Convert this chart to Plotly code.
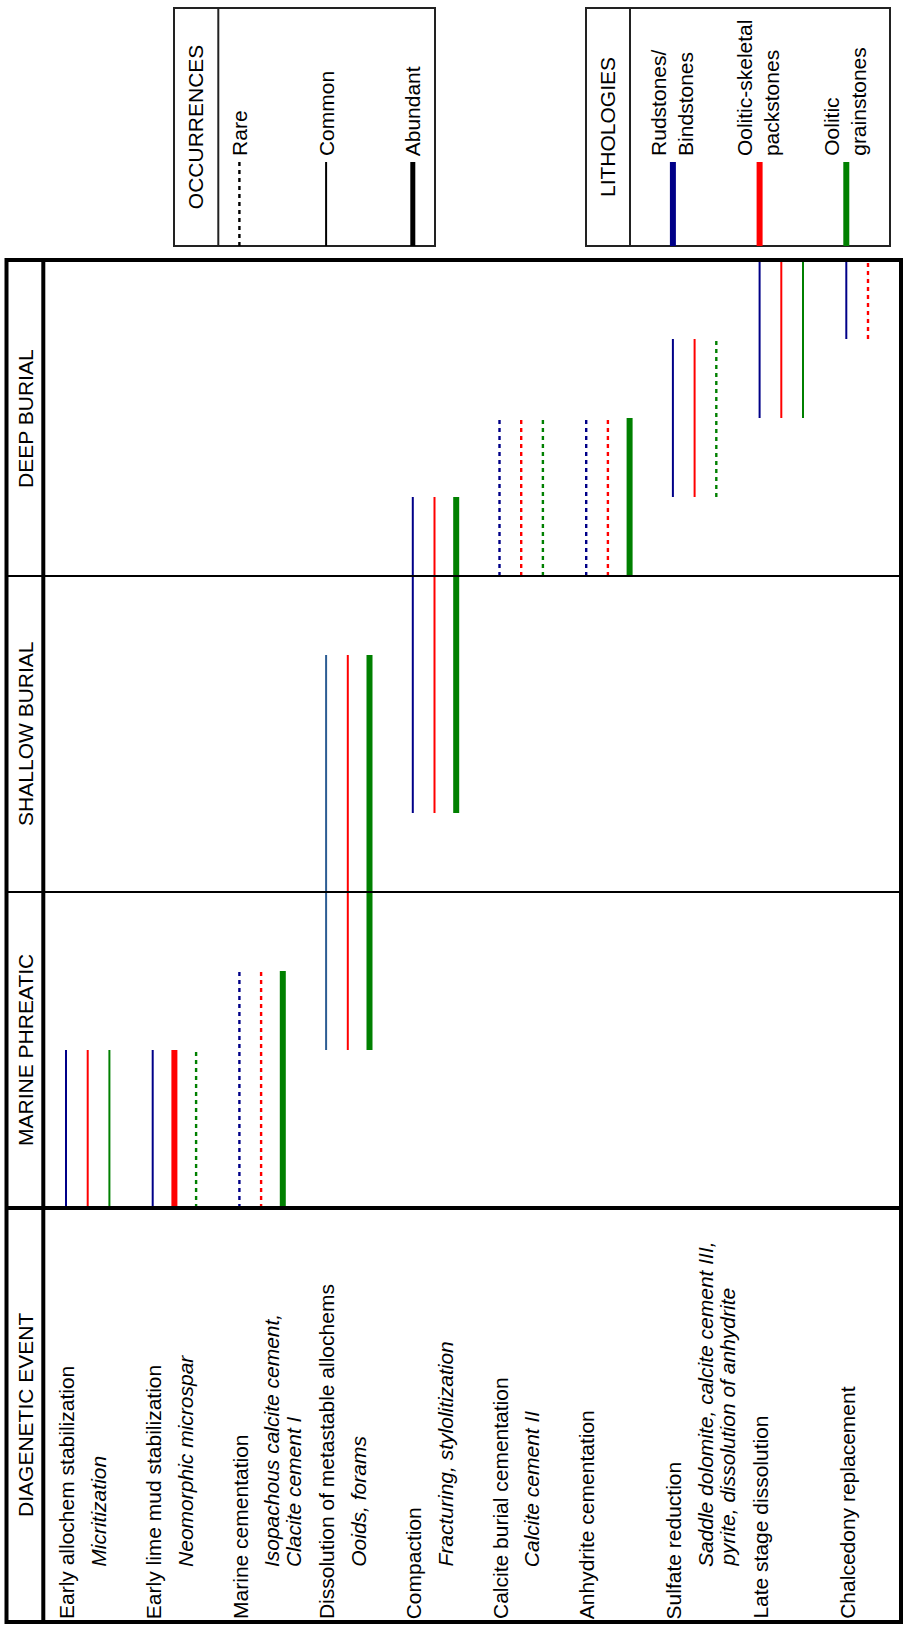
import plotly.graph_objects as go

# ---------------------------------------------------------------- data
events = [
    "Early allochem stabilization",
    "Early lime mud stabilization",
    "Marine cementation",
    "Dissolution of metastable allochems",
    "Compaction",
    "Calcite burial cementation",
    "Anhydrite cementation",
    "Sulfate reduction",
    "Late stage dissolution",
    "Chalcedony replacement",
]
details = [
    ["Micritization"],
    ["Neomorphic microspar"],
    ["Isopachous calcite cement,", "Clacite cement I"],
    ["Ooids, forams"],
    ["Fracturing, stylolitization"],
    ["Calcite cement II"],
    [],
    ["Saddle dolomite, calcite cement III,", "pyrite, dissolution of anhydrite"],
    [],
    [],
]
# relative timing (0 = earliest marine phreatic, 12 = latest deep burial)
start = [0, 0, 0, 2, 5, 8, 8, 9, 10, 11]
end = [2, 2, 3, 7, 9, 10, 10, 11, 12, 12]

# occurrence of each event in each lithology (None = not observed)
occ_rudstone = ["Common", "Common", "Rare", "Common", "Common", "Rare", "Rare", "Common", "Common", "Common"]
occ_packstone = ["Common", "Abundant", "Rare", "Common", "Common", "Rare", "Rare", "Common", "Common", "Rare"]
occ_grainstone = ["Common", "Rare", "Abundant", "Abundant", "Abundant", "Rare", "Abundant", "Rare", "Common", None]

lithologies = ["Rudstones/<br>Bindstones", "Oolitic-skeletal<br>packstones", "Oolitic<br>grainstones"]
occurrence_levels = ["Rare", "Common", "Abundant"]

stages = ["MARINE PHREATIC", "SHALLOW BURIAL", "DEEP BURIAL"]
stage_bounds = [0, 4, 8, 12]

# ---------------------------------------------------------------- styling
W, H = 903, 1625
FONT = "Liberation Sans, Arial, Helvetica, sans-serif"
LABEL_SIZE = 21
lith_colors = ["#000088", "#FF0000", "#008000"]
color_override = {(3, 0): "#2C5C93"}
occ_style = {
    "Rare": dict(width=2.4, dash="4px,4px"),
    "Common": dict(width=2, dash="solid"),
    "Abundant": dict(width=6, dash="solid"),
}
legend_width = {"Rare": 2.4, "Common": 2, "Abundant": 5}

LANE0, LANE_STEP, LITH_STEP = 66.0, 86.7, 21.7
TABLE_L, TABLE_R, TABLE_T, TABLE_B = 6.5, 901.0, 260.0, 1622.0
HEAD_X = 43.3            # divider between header strip and body
TIME0_PX, TIME12_PX = 1208.0, 260.0
DETAIL_DX, DETAIL_LINE = 32.2, 22.0


def lane_x(i):
    return LANE0 + i * LANE_STEP


def py(p):
    """pixel row -> paper fraction"""
    return 1 - p / H


fig = go.Figure()

# ---------------------------------------------------------------- event bars
occ_table = [occ_rudstone, occ_packstone, occ_grainstone]
for i in range(len(events)):
    for j, occ in enumerate(occ_table):
        level = occ[i]
        if level is None:
            continue
        x = lane_x(i) + j * LITH_STEP
        st = occ_style[level]
        fig.add_trace(go.Scatter(
            x=[x, x], y=[start[i], end[i]], mode="lines",
            line=dict(color=color_override.get((i, j), lith_colors[j]),
                      width=st["width"], dash=st["dash"]),
            hoverinfo="skip", showlegend=False,
        ))

shapes = []
ann = []

# ---------------------------------------------------------------- table frame
shapes.append(dict(type="rect", xref="x", yref="paper", x0=TABLE_L, x1=TABLE_R,
                   y0=py(TABLE_T), y1=py(TABLE_B), line=dict(color="black", width=4)))
shapes.append(dict(type="line", xref="x", yref="paper", x0=HEAD_X, x1=HEAD_X,
                   y0=py(TABLE_T), y1=py(TABLE_B), line=dict(color="black", width=4)))
shapes.append(dict(type="line", xref="x", yref="paper", x0=TABLE_L, x1=TABLE_R,
                   y0=py(TIME0_PX), y1=py(TIME0_PX), line=dict(color="black", width=4)))
for b in stage_bounds[1:-1]:
    shapes.append(dict(type="line", xref="x", yref="y", x0=TABLE_L, x1=TABLE_R,
                       y0=b, y1=b, line=dict(color="black", width=2)))

# stage headers
for k, name in enumerate(stages):
    ann.append(dict(x=(TABLE_L + HEAD_X) / 2, y=(stage_bounds[k] + stage_bounds[k + 1]) / 2,
                    xref="x", yref="y", text=name, textangle=-90, showarrow=False,
                    font=dict(family=FONT, size=21, color="black"),
                    xanchor="center", yanchor="middle"))
ann.append(dict(x=(TABLE_L + HEAD_X) / 2, y=py((TIME0_PX + TABLE_B) / 2), xref="x", yref="paper",
                text="DIAGENETIC EVENT", textangle=-90, showarrow=False,
                font=dict(family=FONT, size=21, color="black"),
                xanchor="center", yanchor="middle"))

# event labels, with italic detail lines beside them
for i, name in enumerate(events):
    ann.append(dict(x=lane_x(i) + 0.5, y=py(1619), xref="x", yref="paper",
                    text=name, textangle=-90, showarrow=False,
                    font=dict(family=FONT, size=LABEL_SIZE, color="black"),
                    xanchor="center", yanchor="bottom", borderpad=0, borderwidth=0))
    for k, line in enumerate(details[i]):
        ann.append(dict(x=lane_x(i) + DETAIL_DX + k * DETAIL_LINE, y=py(1567), xref="x", yref="paper",
                        text="<i>" + line + "</i>", textangle=-90, showarrow=False,
                        font=dict(family=FONT, size=LABEL_SIZE, color="black"),
                        xanchor="center", yanchor="bottom", borderpad=0, borderwidth=0))

# ---------------------------------------------------------------- key boxes
BOX_T, BOX_B, SAMPLE_T = 8.0, 246.0, 162.0
keys = [
    dict(left=174.0, div=218.3, right=435.0, title="OCCURRENCES", lanes=[2, 3, 4]),
    dict(left=586.0, div=630.0, right=890.0, title="LITHOLOGIES", lanes=[7, 8, 9]),
]
for kb in keys:
    shapes.append(dict(type="rect", xref="x", yref="paper", x0=kb["left"], x1=kb["right"],
                       y0=py(BOX_T), y1=py(BOX_B), line=dict(color="#222222", width=2)))
    shapes.append(dict(type="line", xref="x", yref="paper", x0=kb["div"], x1=kb["div"],
                       y0=py(BOX_T), y1=py(BOX_B), line=dict(color="#222222", width=2)))
    ann.append(dict(x=(kb["left"] + kb["div"]) / 2, y=py((BOX_T + BOX_B) / 2), xref="x", yref="paper",
                    text=kb["title"], textangle=-90, showarrow=False,
                    font=dict(family=FONT, size=21, color="black"),
                    xanchor="center", yanchor="middle"))

# occurrence samples
for lane, level in zip(keys[0]["lanes"], occurrence_levels):
    x = lane_x(lane)
    shapes.append(dict(type="line", xref="x", yref="paper", x0=x, x1=x,
                       y0=py(SAMPLE_T), y1=py(BOX_B),
                       line=dict(color="black", width=legend_width[level],
                                 dash=occ_style[level]["dash"])))
    ann.append(dict(x=x + 0.5, y=py(SAMPLE_T - 6), xref="x", yref="paper",
                    text=level, textangle=-90, showarrow=False,
                    font=dict(family=FONT, size=LABEL_SIZE, color="black"),
                    xanchor="center", yanchor="bottom", borderpad=0, borderwidth=0))

# lithology samples
for lane, name, col in zip(keys[1]["lanes"], lithologies, lith_colors):
    x = lane_x(lane)
    shapes.append(dict(type="line", xref="x", yref="paper", x0=x, x1=x,
                       y0=py(SAMPLE_T), y1=py(BOX_B), line=dict(color=col, width=6)))
    ann.append(dict(x=x - 1, y=py(SAMPLE_T - 6), xref="x", yref="paper",
                    text=name, textangle=-90, showarrow=False, align="left",
                    font=dict(family=FONT, size=LABEL_SIZE, color="black"),
                    xanchor="center", yanchor="bottom", borderpad=0, borderwidth=0))

fig.update_layout(
    width=W, height=H,
    margin=dict(l=0, r=0, t=0, b=0),
    paper_bgcolor="white", plot_bgcolor="rgba(0,0,0,0)",
    showlegend=False,
    shapes=shapes, annotations=ann,
    xaxis=dict(range=[0, W], domain=[0, 1], visible=False, fixedrange=True),
    yaxis=dict(range=[stage_bounds[0], stage_bounds[-1]],
               domain=[py(TIME0_PX), py(TIME12_PX)], visible=False, fixedrange=True),
)

fig.write_html("out.html")
